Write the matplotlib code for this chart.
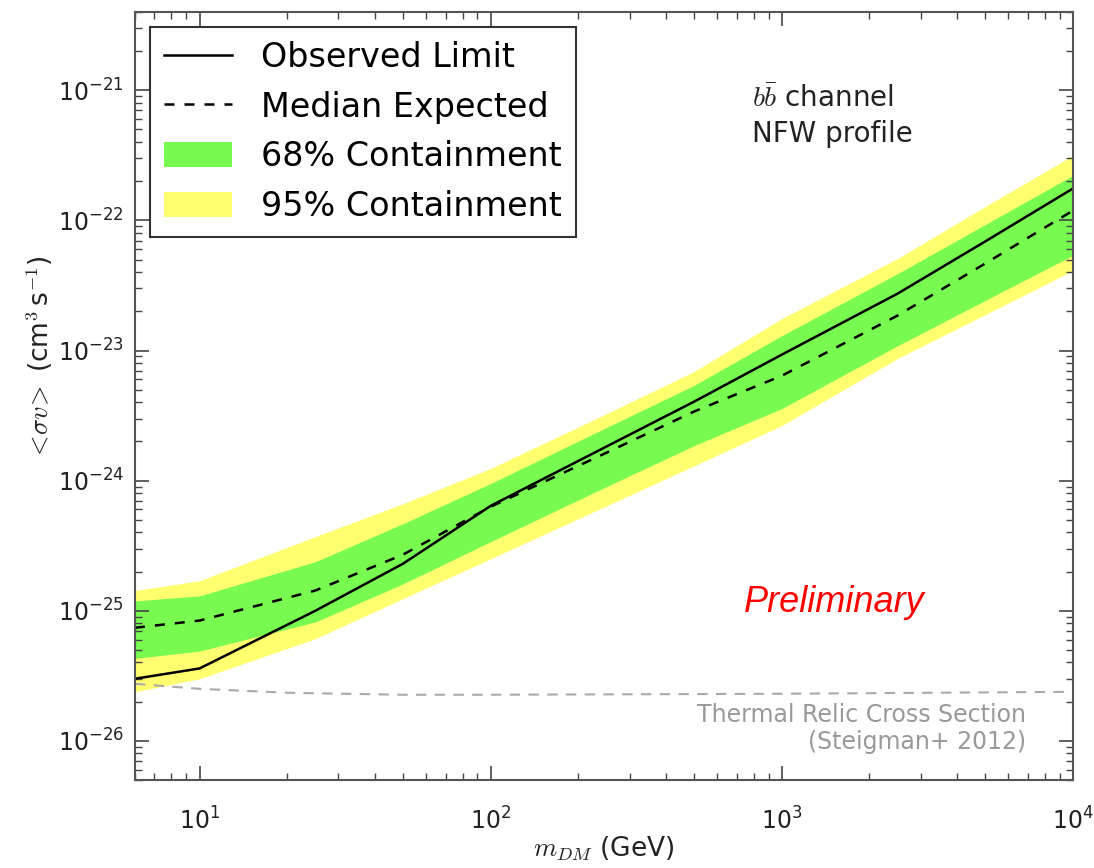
import numpy as np
import matplotlib
matplotlib.use("Agg")
import matplotlib.pyplot as plt
from matplotlib.ticker import NullFormatter

plt.rcParams['font.family'] = ['DejaVu Sans']
plt.rcParams['mathtext.fontset'] = 'cm'

# ---- data ----
mass = [6, 10, 25, 50, 100, 250, 500, 1000, 2500, 5000, 10000]
observed = [3.0e-26, 3.6e-26, 1.0e-25, 2.3e-25, 6.4e-25, 1.83e-24, 4.05e-24,
            9.3e-24, 2.74e-23, 6.9e-23, 1.76e-22]
median = [7.4e-26, 8.4e-26, 1.43e-25, 2.7e-25, 6.3e-25, 1.64e-24, 3.4e-24,
          6.4e-24, 1.86e-23, 4.67e-23, 1.19e-22]
band68_hi = [1.19e-25, 1.30e-25, 2.38e-25, 4.67e-25, 9.5e-25, 2.56e-24, 5.4e-24,
             1.30e-23, 3.9e-23, 9.3e-23, 2.22e-22]
band68_lo = [4.3e-26, 4.9e-26, 8.2e-26, 1.61e-25, 3.4e-25, 9.0e-25, 1.86e-24,
             3.58e-24, 1.09e-23, 2.43e-23, 5.4e-23]
band95_hi = [1.43e-25, 1.70e-25, 3.71e-25, 6.65e-25, 1.24e-24, 3.27e-24, 6.9e-24,
             1.76e-23, 5.1e-23, 1.28e-22, 3.16e-22]
band95_lo = [2.38e-26, 3.0e-26, 6.1e-26, 1.24e-25, 2.51e-25, 6.4e-25, 1.30e-24,
             2.65e-24, 8.7e-24, 1.89e-23, 4.12e-23]

relic_mass = [6, 10, 20, 50, 100, 1000, 10000]
relic_xsec = [2.74e-26, 2.51e-26, 2.34e-26, 2.26e-26, 2.26e-26, 2.30e-26, 2.38e-26]

legend_labels = ["Observed Limit", "Median Expected", "68% Containment", "95% Containment"]

# ---- figure ----
fig = plt.figure(figsize=(10.94, 8.68), dpi=100)
ax = fig.add_axes([0.1234, 0.1014, 0.8574, 0.8848])

p95 = ax.fill_between(mass, band95_lo, band95_hi, color='#ffff70', lw=0, label=legend_labels[3])
p68 = ax.fill_between(mass, band68_lo, band68_hi, color='#78fa50', lw=0, label=legend_labels[2])
l_obs, = ax.plot(mass, observed, color='black', lw=1.8, label=legend_labels[0])
l_med, = ax.plot(mass, median, color='black', lw=1.8, ls=(0, (4, 4)), label=legend_labels[1])
ax.plot(relic_mass, relic_xsec, color='#aaaaaa', lw=1.5, ls=(0, (5, 4)))

ax.set_xscale('log')
ax.set_yscale('log')
ax.set_xlim(6, 1e4)
ax.set_ylim(5e-27, 4e-21)
ax.xaxis.set_minor_formatter(NullFormatter())
ax.yaxis.set_minor_formatter(NullFormatter())

ax.tick_params(which='both', direction='in', top=True, right=True, labelsize=17,
               color='#444444', labelcolor='#222222')
ax.tick_params(which='major', length=10, width=1.2)
ax.tick_params(which='minor', length=5, width=1.0)
ax.tick_params(axis='x', pad=20)
ax.tick_params(axis='y', pad=8)
for s in ax.spines.values():
    s.set_linewidth(1.5)
    s.set_color('#555555')

ax.set_xlabel(r'$m_{DM}$ (GeV)', fontsize=19, color='#222222')
ax.xaxis.set_label_coords(0.5, -0.071)
ax.set_ylabel(r'$<\!\sigma v\!>$ (cm$^3\,$s$^{-1}$)', fontsize=19, color='#222222')
ax.yaxis.set_label_coords(-0.085, 0.55)

leg = ax.legend([l_obs, l_med, p68, p95], legend_labels, loc='upper left', fontsize=24,
                frameon=True, fancybox=False, edgecolor='#333333', framealpha=1,
                handlelength=2.05, handleheight=0.8, handletextpad=0.87,
                labelspacing=0.5, borderaxespad=0.45, borderpad=0.42)
leg.get_frame().set_linewidth(1.5)

ax.text(0.658, 0.905, r'$b\bar{b}$ channel' + '\nNFW profile', transform=ax.transAxes,
        fontsize=20, va='top', ha='left', color='#222222', linespacing=1.3)

ax.text(0.746, 0.231, 'Preliminary', transform=ax.transAxes, color='red', fontsize=26,
        style='italic', family='Liberation Sans', ha='center', va='center')

ax.text(0.95, 0.067, 'Thermal Relic Cross Section\n(Steigman+ 2012)', transform=ax.transAxes,
        color='#999999', fontsize=17, ha='right', va='center', multialignment='right',
        linespacing=1.15)

fig.savefig('out.png', dpi=100)
